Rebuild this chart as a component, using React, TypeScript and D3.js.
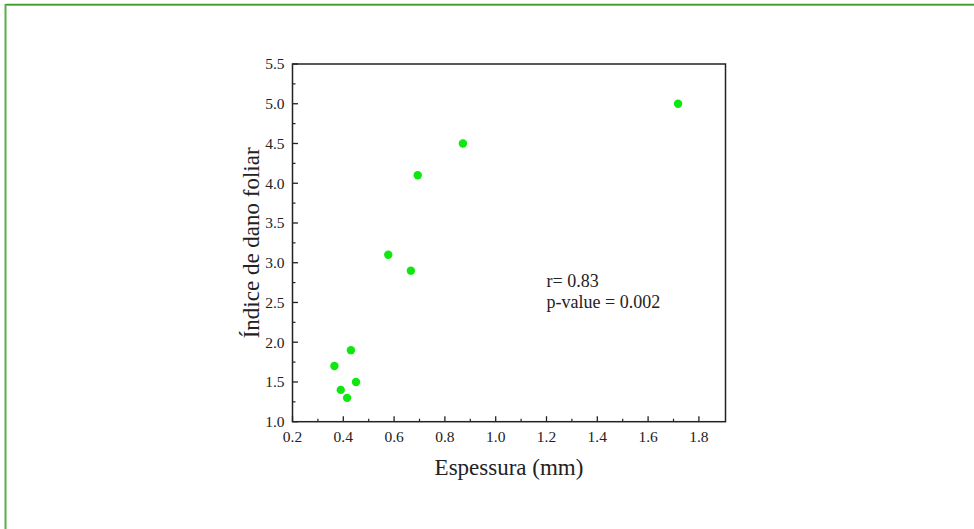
import React from "react";
import * as d3 from "d3";

const espessura = [0.365, 0.43, 0.39, 0.415, 0.45, 0.577, 0.666, 0.693, 0.871, 1.718];
const indice = [1.7, 1.9, 1.4, 1.3, 1.5, 3.1, 2.9, 4.1, 4.5, 5.0];
const xTicks = [0.2, 0.4, 0.6, 0.8, 1.0, 1.2, 1.4, 1.6, 1.8];
const yTicks = [1.0, 1.5, 2.0, 2.5, 3.0, 3.5, 4.0, 4.5, 5.0, 5.5];
const annotations = ["r= 0.83", "p-value = 0.002"];

const W = 974;
const H = 529;
const L = 292.5, R = 725.5, T = 64, B = 421.7;
const FONT = "'Liberation Serif', 'Times New Roman', serif";

export default function App() {
  const x = d3.scaleLinear().domain([0.2, 0.2 + (R - L) / 254]).range([L, R]);
  const y = d3.scaleLinear().domain([1.0, 5.5]).range([B, T]);
  const xMinor = d3.range(0.3, 1.9, 0.2);
  const yMinor = d3.range(1.25, 5.5, 0.5);
  const axisColor = "#222";
  return (
    <svg width={W} height={H} style={{ position: "absolute", left: 0, top: 0, background: "#fff" }}>
      <rect x={0} y={0} width={W} height={H} fill="#fff" />
      <line x1={5.5} y1={4.5} x2={W + 5} y2={4.5} stroke="#3f9a2c" strokeWidth={1.5} />
      <line x1={5.5} y1={5.5} x2={W + 5} y2={5.5} stroke="#7ec46a" strokeWidth={1} />
      <line x1={5.5} y1={4} x2={5.5} y2={H + 5} stroke="#5aad46" strokeWidth={2} />
      <rect x={L} y={T} width={R - L} height={B - T} fill="none" stroke={axisColor} strokeWidth={1.5} />
      {xTicks.map((t) => (
        <g key={"xt" + t}>
          <line x1={x(t)} x2={x(t)} y1={B} y2={B - 5.5} stroke={axisColor} strokeWidth={1.3} />
          <text x={x(t)} y={442} textAnchor="middle" fontFamily={FONT} fontSize={15.5} fill="#222">
            {t.toFixed(1)}
          </text>
        </g>
      ))}
      {xMinor.map((t) => (
        <line key={"xm" + t} x1={x(t)} x2={x(t)} y1={B} y2={B - 3} stroke={axisColor} strokeWidth={1.2} />
      ))}
      {yTicks.map((t) => (
        <g key={"yt" + t}>
          <line x1={L} x2={L + 5.5} y1={y(t)} y2={y(t)} stroke={axisColor} strokeWidth={1.3} />
          <text x={284.5} y={y(t)} dy="0.35em" textAnchor="end" fontFamily={FONT} fontSize={15.5} fill="#222">
            {t.toFixed(1)}
          </text>
        </g>
      ))}
      {yMinor.map((t) => (
        <line key={"ym" + t} x1={L} x2={L + 3} y1={y(t)} y2={y(t)} stroke={axisColor} strokeWidth={1.2} />
      ))}
      {espessura.map((v, i) => (
        <circle key={"p" + i} cx={x(v)} cy={y(indice[i])} r={4.2} fill="#0ee80e" />
      ))}
      {annotations.map((a, i) => (
        <text key={"a" + i} x={546.5} y={287 + i * 21} fontFamily={FONT} fontSize={18} fill="#222">
          {a}
        </text>
      ))}
      <text x={509} y={475} textAnchor="middle" fontFamily={FONT} fontSize={23} fill="#222">
        Espessura (mm)
      </text>
      <text
        transform={`translate(259,${(T + B) / 2}) rotate(-90)`}
        textAnchor="middle"
        fontFamily={FONT}
        fontSize={23}
        fill="#222"
      >
        Índice de dano foliar
      </text>
    </svg>
  );
}
